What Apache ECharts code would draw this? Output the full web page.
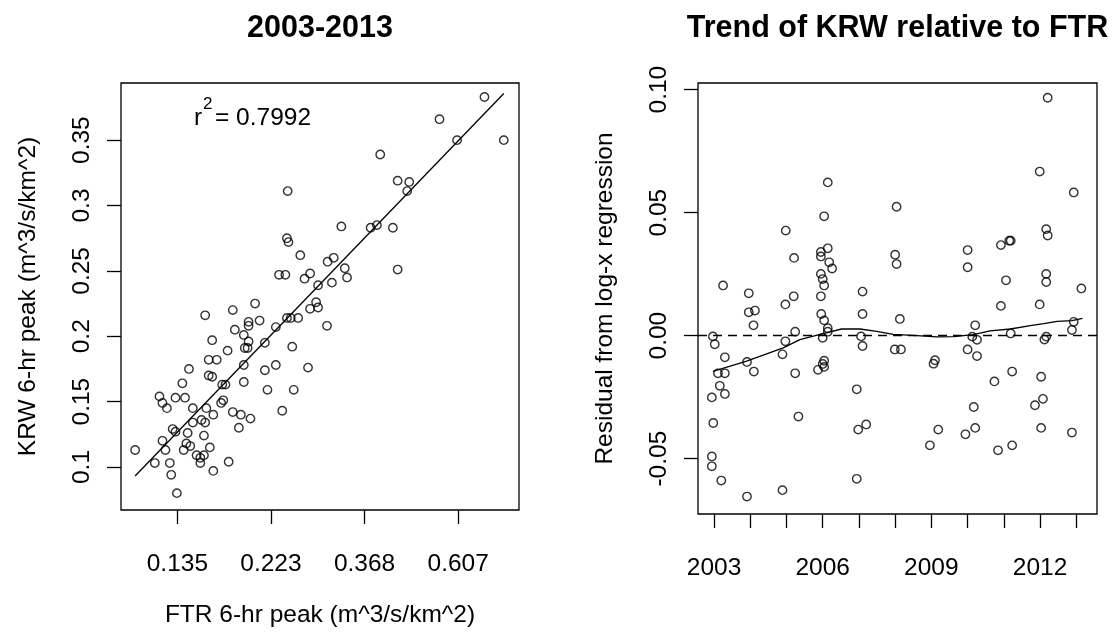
<!DOCTYPE html>
<html>
<head>
<meta charset="utf-8">
<script src="https://cdn.jsdelivr.net/npm/echarts@6/dist/echarts.min.js"></script>
<style>
  html, body { margin: 0; padding: 0; background: #fff; }
  #chart { width: 1117px; height: 633px; }
</style>
</head>
<body>
<div id="chart"></div>
<script>
// FTR and KRW 6-hr peak unit discharge per event (m^3/s/km^2)
const ftrPeak = [
  0.698, 0.549, 0.603, 0.774, 0.400, 0.244, 0.439, 0.467, 0.462, 0.325,
  0.380, 0.393, 0.428, 0.243, 0.245, 0.261, 0.302, 0.312, 0.331, 0.439,
  0.335, 0.233, 0.241, 0.275, 0.267, 0.287, 0.309, 0.205, 0.182, 0.157,
  0.284, 0.275, 0.287, 0.198, 0.210, 0.184, 0.198, 0.193, 0.229, 0.243,
  0.248, 0.258, 0.301, 0.163, 0.198, 0.216, 0.177, 0.194, 0.197, 0.250,
  0.160, 0.167, 0.144, 0.193, 0.229, 0.216, 0.272, 0.139, 0.160, 0.163,
  0.172, 0.175, 0.193, 0.219, 0.252, 0.123, 0.125, 0.128, 0.134, 0.141,
  0.147, 0.158, 0.164, 0.171, 0.173, 0.182, 0.190, 0.200, 0.237, 0.154,
  0.157, 0.147, 0.132, 0.134, 0.143, 0.188, 0.156, 0.125, 0.142, 0.145,
  0.161, 0.127, 0.140, 0.108, 0.150, 0.156, 0.153, 0.153, 0.120, 0.130,
  0.178, 0.164, 0.131, 0.135
];
const krwPeak = [
  0.383, 0.366, 0.350, 0.350, 0.339, 0.311, 0.319, 0.318, 0.311, 0.284,
  0.283, 0.285, 0.283, 0.275, 0.272, 0.262, 0.257, 0.260, 0.252, 0.251,
  0.245, 0.247, 0.247, 0.248, 0.244, 0.239, 0.241, 0.225, 0.220, 0.216,
  0.226, 0.221, 0.222, 0.211, 0.212, 0.205, 0.208, 0.201, 0.207, 0.214,
  0.214, 0.214, 0.208, 0.197, 0.196, 0.195, 0.189, 0.191, 0.191, 0.192,
  0.182, 0.182, 0.175, 0.178, 0.178, 0.174, 0.176, 0.164, 0.170, 0.169,
  0.163, 0.163, 0.165, 0.159, 0.159, 0.154, 0.149, 0.145, 0.153, 0.153,
  0.145, 0.145, 0.140, 0.149, 0.151, 0.142, 0.140, 0.137, 0.143, 0.136,
  0.134, 0.134, 0.129, 0.127, 0.126, 0.130, 0.124, 0.120, 0.118, 0.116,
  0.115, 0.113, 0.113, 0.113, 0.109, 0.109, 0.107, 0.103, 0.103, 0.103,
  0.104, 0.097, 0.094, 0.080
];

// Event date (decimal year) and residual from the log-x regression
const residYear = [
  2012.21, 2011.99, 2012.93, 2006.14, 2008.04, 2006.04, 2004.98, 2012.17, 2012.21, 2005.21,
  2005.95, 2005.95, 2006.14, 2008.00, 2008.04, 2010.00, 2010.92, 2011.15, 2011.19, 2006.18,
  2006.26, 2010.00, 2012.17, 2012.17, 2011.06, 2013.14, 2003.25, 2003.96, 2005.20, 2004.97,
  2005.95, 2006.04, 2006.00, 2005.95, 2007.10, 2007.10, 2003.96, 2004.13, 2004.09, 2005.96,
  2006.04, 2006.14, 2006.14, 2008.13, 2010.92, 2011.99, 2010.21, 2011.19, 2012.93, 2012.88,
  2002.97, 2003.02, 2005.24, 2004.97, 2006.00, 2007.06, 2007.10, 2007.99, 2008.16, 2010.13,
  2010.26, 2012.17, 2012.12, 2010.00, 2010.26, 2003.30, 2003.91, 2004.89, 2009.10, 2009.06,
  2006.04, 2006.00, 2006.04, 2005.87, 2003.11, 2003.30, 2004.10, 2005.24, 2011.23, 2010.74,
  2012.03, 2003.16, 2003.30, 2002.94, 2006.94, 2012.08, 2011.86, 2010.17, 2002.98, 2005.33,
  2006.98, 2007.20, 2009.19, 2009.94, 2010.21, 2012.03, 2012.88, 2008.96, 2010.84, 2011.23,
  2002.94, 2002.94, 2003.20, 2006.94, 2003.91, 2004.89
];
const residValue = [
  0.0967, 0.0667, 0.0582, 0.0623, 0.0524, 0.0485, 0.0427, 0.0433, 0.0407, 0.0316,
  0.0340, 0.0322, 0.0355, 0.0329, 0.0291, 0.0348, 0.0368, 0.0386, 0.0386, 0.0298,
  0.0273, 0.0278, 0.0251, 0.0218, 0.0225, 0.0192, 0.0204, 0.0172, 0.0160, 0.0127,
  0.0160, 0.0204, 0.0230, 0.0251, 0.0179, 0.0088, 0.0095, 0.0102, 0.0042, 0.0088,
  0.0062, 0.0030, 0.0016, 0.0068, 0.0121, 0.0127, 0.0042, 0.0009, 0.0056, 0.0023,
  -0.0003, -0.0035, 0.0016, -0.0023, -0.0009, -0.0003, -0.0042, -0.0056, -0.0056, -0.0004,
  -0.0017, -0.0004, -0.0016, -0.0056, -0.0083, -0.0088, -0.0107, -0.0076, -0.0100, -0.0114,
  -0.0102, -0.0115, -0.0127, -0.0139, -0.0153, -0.0153, -0.0146, -0.0153, -0.0146, -0.0186,
  -0.0167, -0.0204, -0.0237, -0.0251, -0.0218, -0.0257, -0.0283, -0.0290, -0.0355, -0.0329,
  -0.0382, -0.0361, -0.0382, -0.0401, -0.0375, -0.0375, -0.0394, -0.0446, -0.0466, -0.0446,
  -0.0491, -0.0531, -0.0589, -0.0582, -0.0654, -0.0628
];

// Smoothed trend of the residuals through time
const trendYear = [
  2002.97, 2003.90, 2004.91, 2005.37, 2006.01, 2006.52, 2007.03, 2007.49, 2007.95, 2008.60,
  2009.15, 2009.61, 2010.16, 2010.62, 2011.18, 2011.73, 2012.10, 2012.47, 2012.88, 2013.17
];
const trendValue = [
  -0.0145, -0.0104, -0.0050, -0.0016, 0.0008, 0.0027, 0.0027, 0.0017, 0.0005, 0.0000,
  -0.0005, -0.0004, 0.0004, 0.0019, 0.0027, 0.0041, 0.0049, 0.0058, 0.0061, 0.0070
];

// Axis ticks: FTR ticks sit at natural-log positions, labelled with exp(value)
const ftrTickLn = [-2, -1.5, -1, -0.5];
const krwTicks = [0.1, 0.15, 0.2, 0.25, 0.3, 0.35];
const residTicks = [-0.05, 0, 0.05, 0.10];
const yearTicks = [2003, 2004, 2005, 2006, 2007, 2008, 2009, 2010, 2011, 2012, 2013];
const yearLabels = [2003, 2006, 2009, 2012];
const rSquaredText = '= 0.7992';

const FONT = "'Liberation Sans', Arial, Helvetica, sans-serif";
const INK = '#000';

// Least-squares fit of KRW on ln(FTR)
const lnFtr = ftrPeak.map(v => Math.log(v));
const n = lnFtr.length;
const mx = lnFtr.reduce((a, b) => a + b, 0) / n;
const my = krwPeak.reduce((a, b) => a + b, 0) / n;
let sxy = 0, sxx = 0;
for (let i = 0; i < n; i++) {
  sxy += (lnFtr[i] - mx) * (krwPeak[i] - my);
  sxx += (lnFtr[i] - mx) * (lnFtr[i] - mx);
}
const slope = sxy / sxx;
const intercept = my - slope * mx;
const lnMin = Math.min(...lnFtr);
const lnMax = Math.max(...lnFtr);
const fitLine = [[lnMin, intercept + slope * lnMin], [lnMax, intercept + slope * lnMax]];

const scatterPts = lnFtr.map((x, i) => [x, krwPeak[i]]);
const residPts = residYear.map((x, i) => [x, residValue[i]]);
const trendPts = trendYear.map((x, i) => [x, trendValue[i]]);

const labelStyle = { color: INK, fontSize: 24.5, fontFamily: FONT };
const tickStyle = { show: true, inside: false, length: 14, lineStyle: { color: INK, width: 1.3 } };
const hiddenLine = { show: false, onZero: false };
const circle = {
  symbol: 'circle', symbolSize: 8.4,
  itemStyle: { color: 'rgba(0,0,0,0)', borderColor: INK, borderWidth: 1.4 }
};

const chart = echarts.init(document.getElementById('chart'), null, { renderer: 'canvas' });
chart.setOption({
  backgroundColor: '#fff',
  animation: false,
  grid: [
    { left: 121, top: 83, right: 598, bottom: 119, show: true, borderColor: INK, borderWidth: 1.3, containLabel: false },
    { left: 698, top: 83, right: 20, bottom: 119, show: true, borderColor: INK, borderWidth: 1.3, containLabel: false }
  ],
  xAxis: [
    {
      gridIndex: 0, type: 'value', min: -2.301, max: -0.175,
      axisLine: hiddenLine, splitLine: { show: false },
      axisTick: Object.assign({ customValues: ftrTickLn }, tickStyle),
      axisLabel: Object.assign({ customValues: ftrTickLn, margin: 42,
        formatter: v => Math.exp(v).toFixed(3) }, labelStyle),
      name: 'FTR 6-hr peak (m^3/s/km^2)', nameLocation: 'middle', nameGap: 93,
      nameTextStyle: labelStyle
    },
    {
      gridIndex: 1, type: 'value', min: 2002.558, max: 2013.572,
      axisLine: hiddenLine, splitLine: { show: false },
      axisTick: Object.assign({ customValues: yearTicks }, tickStyle),
      axisLabel: Object.assign({ customValues: yearLabels, margin: 42,
        formatter: v => String(Math.round(v)) }, labelStyle)
    }
  ],
  yAxis: [
    {
      gridIndex: 0, type: 'value', min: 0.0671, max: 0.3937,
      axisLine: hiddenLine, splitLine: { show: false },
      axisTick: Object.assign({ customValues: krwTicks }, tickStyle),
      axisLabel: Object.assign({ customValues: krwTicks, rotate: 90, margin: 26,
        formatter: v => String(+v.toFixed(2)) }, labelStyle),
      name: 'KRW 6-hr peak (m^3/s/km^2)', nameLocation: 'middle', nameGap: 80,
      nameTextStyle: labelStyle
    },
    {
      gridIndex: 1, type: 'value', min: -0.0725, max: 0.1027,
      axisLine: hiddenLine, splitLine: { show: false },
      axisTick: Object.assign({ customValues: residTicks }, tickStyle),
      axisLabel: Object.assign({ customValues: residTicks, rotate: 90, margin: 26,
        formatter: v => v.toFixed(2) }, labelStyle),
      name: 'Residual from log-x regression', nameLocation: 'middle', nameGap: 80,
      nameTextStyle: labelStyle
    }
  ],
  series: [
    Object.assign({ type: 'scatter', xAxisIndex: 0, yAxisIndex: 0, data: scatterPts, silent: true }, circle),
    {
      type: 'line', xAxisIndex: 0, yAxisIndex: 0, data: fitLine, showSymbol: false, silent: true,
      lineStyle: { color: INK, width: 1.3 }
    },
    Object.assign({ type: 'scatter', xAxisIndex: 1, yAxisIndex: 1, data: residPts, silent: true }, circle),
    {
      type: 'line', xAxisIndex: 1, yAxisIndex: 1, data: trendPts, showSymbol: false, silent: true,
      lineStyle: { color: INK, width: 1.3 },
      markLine: {
        silent: true, symbol: ['none', 'none'], label: { show: false },
        lineStyle: { color: INK, width: 1.3, type: [9, 6] },
        data: [{ yAxis: 0 }]
      }
    }
  ],
  graphic: [
    { type: 'text', x: 320, y: 29, style: { text: '2003-2013', fill: INK,
      font: 'bold 30.5px ' + FONT, textAlign: 'center', textVerticalAlign: 'middle' } },
    { type: 'text', x: 897.5, y: 29, style: { text: 'Trend of KRW relative to FTR', fill: INK,
      font: 'bold 30.5px ' + FONT, textAlign: 'center', textVerticalAlign: 'middle' } },
    { type: 'text', x: 194, y: 118, style: { text: 'r', fill: INK,
      font: '24.5px ' + FONT, textAlign: 'left', textVerticalAlign: 'middle' } },
    { type: 'text', x: 203, y: 104, style: { text: '2', fill: INK,
      font: '17px ' + FONT, textAlign: 'left', textVerticalAlign: 'middle' } },
    { type: 'text', x: 215, y: 118, style: { text: rSquaredText, fill: INK,
      font: '24.5px ' + FONT, textAlign: 'left', textVerticalAlign: 'middle' } }
  ]
});
</script>
</body>
</html>
